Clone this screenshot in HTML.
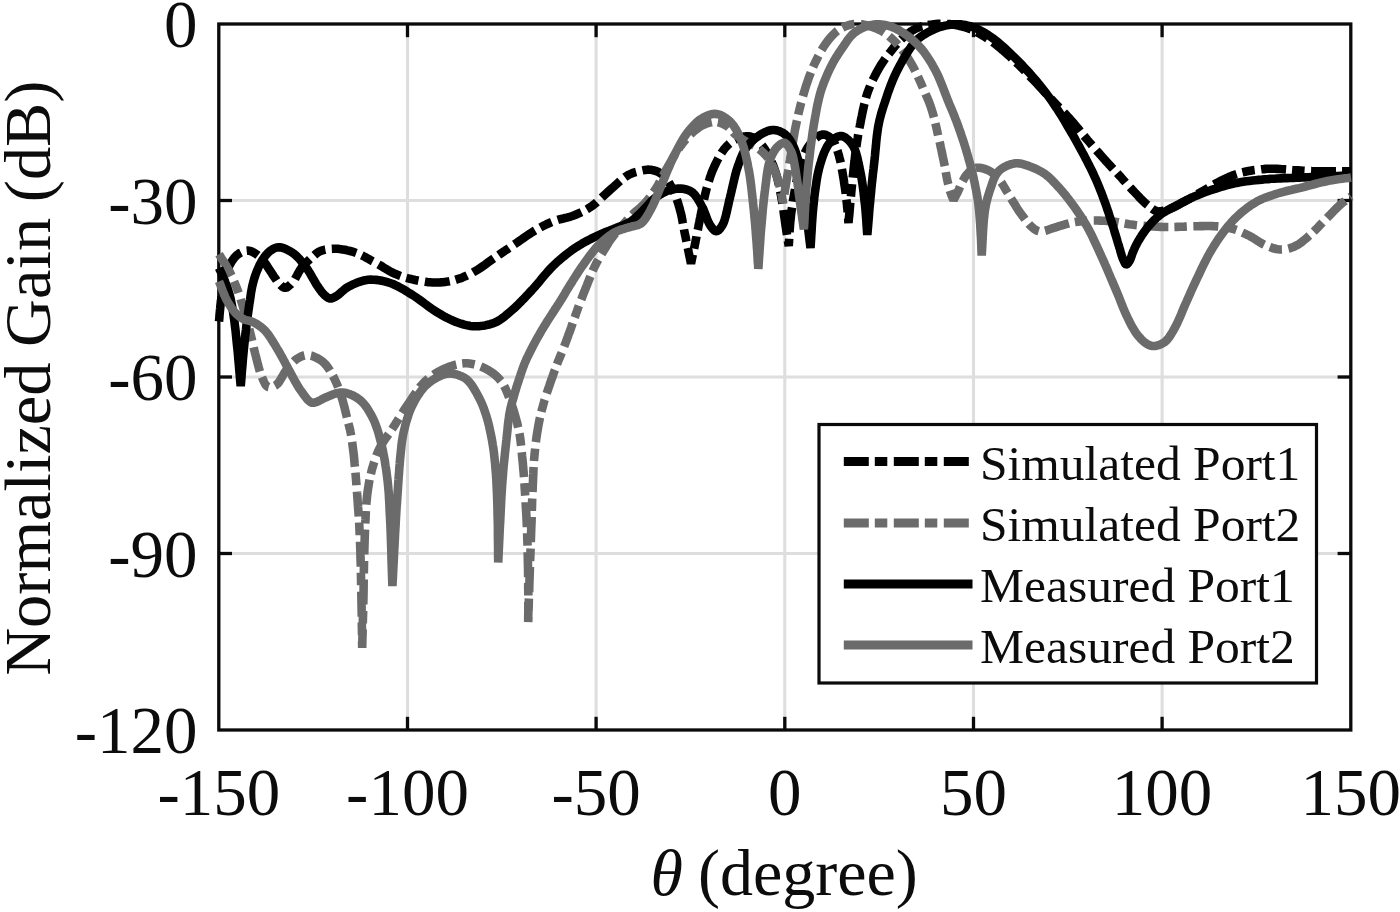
<!DOCTYPE html>
<html lang="en"><head><meta charset="utf-8"><title>Normalized Gain vs theta</title>
<style>html,body{margin:0;padding:0;background:#fff;}body{width:1400px;height:912px;overflow:hidden;}svg{display:block;}text{font-family:"Liberation Serif",serif;fill:#0c0c0c;}</style>
</head><body>
<svg width="1400" height="912" viewBox="0 0 1400 912">
<rect x="0" y="0" width="1400" height="912" fill="#ffffff"/>
<g stroke="#dedede" stroke-width="3.1" fill="none">
<line x1="407.5" y1="24.0" x2="407.5" y2="730.0"/>
<line x1="596.1" y1="24.0" x2="596.1" y2="730.0"/>
<line x1="784.8" y1="24.0" x2="784.8" y2="730.0"/>
<line x1="973.5" y1="24.0" x2="973.5" y2="730.0"/>
<line x1="1162.1" y1="24.0" x2="1162.1" y2="730.0"/>
<line x1="218.8" y1="200.5" x2="1350.8" y2="200.5"/>
<line x1="218.8" y1="377.0" x2="1350.8" y2="377.0"/>
<line x1="218.8" y1="553.5" x2="1350.8" y2="553.5"/>
</g>
<g stroke="#0a0a0a" stroke-width="3.3" fill="none">
<rect x="218.8" y="24.0" width="1132.0" height="706.0"/>
<line x1="407.5" y1="730.0" x2="407.5" y2="716.8"/>
<line x1="407.5" y1="24.0" x2="407.5" y2="37.2"/>
<line x1="596.1" y1="730.0" x2="596.1" y2="716.8"/>
<line x1="596.1" y1="24.0" x2="596.1" y2="37.2"/>
<line x1="784.8" y1="730.0" x2="784.8" y2="716.8"/>
<line x1="784.8" y1="24.0" x2="784.8" y2="37.2"/>
<line x1="973.5" y1="730.0" x2="973.5" y2="716.8"/>
<line x1="973.5" y1="24.0" x2="973.5" y2="37.2"/>
<line x1="1162.1" y1="730.0" x2="1162.1" y2="716.8"/>
<line x1="1162.1" y1="24.0" x2="1162.1" y2="37.2"/>
<line x1="218.8" y1="200.5" x2="232.0" y2="200.5"/>
<line x1="1350.8" y1="200.5" x2="1337.6" y2="200.5"/>
<line x1="218.8" y1="377.0" x2="232.0" y2="377.0"/>
<line x1="1350.8" y1="377.0" x2="1337.6" y2="377.0"/>
<line x1="218.8" y1="553.5" x2="232.0" y2="553.5"/>
<line x1="1350.8" y1="553.5" x2="1337.6" y2="553.5"/>
</g>
<g fill="none" stroke-width="8.6" stroke-linejoin="bevel" stroke-linecap="butt">
<path stroke="#000000" stroke-dasharray="25 6 12.5 6.5" d="M219.0 321.5L219.2 319.4L219.4 317.4L219.5 315.3L219.7 313.2L219.9 311.1L220.1 309.1L220.3 307.0L220.5 305.0L220.7 303.1L220.9 301.2L221.2 299.3L221.4 297.4L221.6 295.5L221.9 293.7L222.2 291.8L222.5 290.0L222.8 288.2L223.1 286.4L223.5 284.6L223.8 282.9L224.2 281.1L224.6 279.4L225.0 277.7L225.5 276.0L226.0 274.5L226.5 273.0L227.0 271.5L227.5 270.0L228.1 268.6L228.7 267.2L229.3 265.8L230.0 264.5L230.7 263.3L231.3 262.1L232.0 261.0L232.8 259.9L233.6 258.8L234.3 257.8L235.2 256.9L236.0 256.0L236.7 255.3L237.5 254.7L238.3 254.1L239.1 253.5L239.9 253.0L240.8 252.6L241.6 252.2L242.5 251.8L243.3 251.5L244.2 251.2L245.0 251.0L245.9 250.8L246.8 250.7L247.7 250.6L248.6 250.7L249.5 250.8L250.9 251.2L252.3 251.8L253.8 252.6L255.3 253.5L256.8 254.5L258.3 255.6L259.7 256.8L261.0 258.0L262.3 259.4L263.6 260.9L264.7 262.5L265.9 264.2L267.0 265.9L268.1 267.6L269.2 269.3L270.3 271.0L271.5 272.7L272.6 274.5L273.8 276.3L275.0 278.1L276.2 279.8L277.3 281.5L278.5 282.9L279.6 284.1L280.3 284.8L281.0 285.5L281.7 286.1L282.4 286.7L283.1 287.1L283.8 287.5L284.5 287.7L285.2 287.8L286.1 287.6L287.0 287.3L287.9 286.7L288.9 285.9L289.8 285.1L290.8 284.2L291.7 283.2L292.6 282.2L293.8 280.7L295.0 279.0L296.1 277.0L297.2 275.0L298.3 272.9L299.5 270.9L300.7 269.0L301.9 267.3L303.0 266.0L304.2 264.7L305.3 263.5L306.5 262.3L307.7 261.2L308.9 260.1L310.1 259.0L311.3 258.0L312.4 257.0L313.4 256.1L314.4 255.2L315.4 254.3L316.5 253.4L317.6 252.6L318.7 251.9L320.0 251.2L321.6 250.6L323.3 250.1L325.2 249.6L327.0 249.3L329.0 249.0L331.0 248.9L333.0 248.8L335.0 248.8L337.4 248.8L339.8 249.1L342.3 249.4L344.9 249.8L347.4 250.4L350.0 251.0L352.5 251.7L355.0 252.5L357.5 253.4L360.1 254.5L362.6 255.7L365.1 257.0L367.6 258.4L370.0 259.8L372.5 261.2L375.0 262.5L377.5 263.9L380.0 265.3L382.5 266.8L385.0 268.4L387.4 269.8L389.9 271.2L392.5 272.6L395.0 273.8L397.5 274.8L399.9 275.7L402.4 276.6L404.9 277.4L407.4 278.1L410.0 278.8L412.5 279.4L415.0 280.0L417.5 280.5L420.0 281.0L422.5 281.4L425.0 281.8L427.5 282.1L430.0 282.3L432.5 282.5L435.0 282.5L437.5 282.5L440.0 282.4L442.5 282.2L445.0 281.9L447.6 281.6L450.1 281.1L452.5 280.6L455.0 280.0L457.5 279.2L460.1 278.4L462.6 277.4L465.1 276.3L467.6 275.1L470.1 273.9L472.6 272.6L475.0 271.2L477.6 269.8L480.1 268.1L482.6 266.4L485.1 264.7L487.5 262.8L490.0 261.0L492.5 259.2L495.0 257.5L497.5 255.8L500.0 254.1L502.5 252.4L505.0 250.7L507.5 249.1L510.0 247.4L512.5 245.7L515.0 244.0L517.5 242.3L520.0 240.5L522.5 238.8L525.0 237.0L527.5 235.3L530.0 233.6L532.5 232.0L535.0 230.5L537.2 229.2L539.5 228.0L541.7 226.8L543.9 225.6L546.1 224.5L548.3 223.5L550.6 222.5L553.0 221.5L555.6 220.6L558.4 219.7L561.2 219.0L564.0 218.3L566.9 217.6L569.7 216.8L572.4 216.0L575.0 215.0L577.3 214.0L579.5 213.1L581.6 212.1L583.7 211.0L585.8 209.9L587.9 208.7L589.9 207.4L592.0 206.0L594.3 204.3L596.6 202.4L598.8 200.4L601.1 198.3L603.3 196.2L605.5 194.1L607.8 192.0L610.0 190.0L612.2 188.1L614.4 186.1L616.6 184.1L618.8 182.1L621.0 180.2L623.2 178.4L625.4 176.8L627.5 175.5L629.1 174.6L630.7 173.9L632.3 173.2L633.8 172.7L635.4 172.2L636.9 171.8L638.5 171.4L640.0 171.0L641.4 170.7L642.8 170.4L644.2 170.1L645.5 169.9L646.9 169.7L648.3 169.6L649.6 169.7L651.0 169.8L652.5 170.1L654.1 170.5L655.6 170.9L657.2 171.5L658.7 172.2L660.2 173.1L661.7 174.0L663.0 175.0L664.5 176.4L665.9 178.0L667.2 179.8L668.5 181.7L669.7 183.7L670.8 185.8L671.9 187.9L673.0 190.0L674.1 192.4L675.2 194.9L676.2 197.5L677.1 200.2L678.0 202.9L678.8 205.6L679.6 208.3L680.3 211.0L681.0 213.6L681.6 216.3L682.1 219.0L682.6 221.7L683.1 224.3L683.6 226.9L684.0 229.5L684.5 232.0L684.9 234.1L685.4 236.2L685.8 238.2L686.2 240.2L686.6 242.1L687.0 244.1L687.4 246.0L687.8 248.0L688.2 249.9L688.6 251.9L689.0 253.8L689.4 255.8L689.8 257.7L690.2 259.6L690.6 261.6L691.0 263.5L691.4 261.6L691.8 259.6L692.2 257.7L692.6 255.7L693.0 253.8L693.4 251.8L693.8 249.9L694.2 248.0L694.6 246.2L694.9 244.5L695.3 242.8L695.6 241.1L695.9 239.4L696.3 237.6L696.6 235.8L697.0 234.0L697.4 231.8L697.9 229.5L698.3 227.3L698.7 224.9L699.2 222.6L699.7 220.1L700.2 217.6L700.7 215.0L701.4 211.6L702.2 207.9L703.0 204.1L703.8 200.3L704.7 196.4L705.6 192.6L706.5 189.0L707.5 185.5L708.3 182.7L709.2 180.0L710.0 177.4L710.9 174.9L711.8 172.3L712.8 169.9L713.9 167.4L715.0 165.0L716.2 162.6L717.4 160.2L718.7 157.7L720.1 155.3L721.5 153.0L722.9 150.9L724.4 148.8L726.0 147.0L727.3 145.6L728.7 144.3L730.1 143.1L731.5 142.0L733.0 141.0L734.4 140.0L736.0 139.2L737.5 138.5L739.0 137.9L740.6 137.4L742.2 137.0L743.9 136.6L745.5 136.4L747.1 136.3L748.6 136.3L750.0 136.5L751.1 136.8L752.2 137.1L753.2 137.6L754.2 138.2L755.2 138.8L756.1 139.5L757.1 140.2L758.0 141.0L759.1 142.0L760.1 143.1L761.2 144.3L762.2 145.5L763.2 146.8L764.1 148.2L765.1 149.6L766.0 151.0L767.0 152.6L767.9 154.2L768.9 156.0L769.8 157.7L770.6 159.5L771.4 161.3L772.2 163.2L773.0 165.0L773.7 166.9L774.4 168.8L775.1 170.8L775.7 172.8L776.3 174.8L776.9 176.8L777.5 178.9L778.0 181.0L778.6 183.4L779.1 185.8L779.6 188.2L780.1 190.7L780.6 193.3L781.1 195.8L781.5 198.4L782.0 201.0L782.5 203.9L782.9 206.9L783.4 209.9L783.8 213.0L784.2 216.0L784.7 219.1L785.1 222.1L785.5 225.0L785.9 227.7L786.3 230.3L786.7 233.0L787.1 235.6L787.5 238.2L787.9 240.8L788.3 243.4L788.7 246.0L789.0 242.1L789.2 238.3L789.4 234.5L789.6 230.7L789.9 226.8L790.2 222.9L790.6 219.0L791.0 215.0L791.6 210.4L792.3 205.7L793.0 200.8L793.8 196.0L794.7 191.1L795.6 186.4L796.5 181.8L797.5 177.5L798.3 174.1L799.1 170.7L799.9 167.3L800.8 164.1L801.7 161.0L802.7 158.0L803.8 155.2L805.0 152.5L806.1 150.4L807.2 148.4L808.4 146.5L809.7 144.7L811.0 143.0L812.3 141.4L813.6 140.0L815.0 138.8L816.0 137.9L817.1 137.1L818.2 136.4L819.3 135.7L820.4 135.2L821.6 134.8L822.7 134.5L823.8 134.5L824.9 134.7L826.0 135.0L827.2 135.6L828.4 136.3L829.5 137.1L830.6 138.0L831.6 139.0L832.5 140.0L833.5 141.4L834.5 143.0L835.3 144.8L836.1 146.7L836.8 148.7L837.5 150.7L838.1 152.9L838.8 155.0L839.5 157.8L840.3 160.8L840.9 163.9L841.6 167.1L842.1 170.3L842.7 173.6L843.2 176.8L843.8 180.0L844.2 183.1L844.7 186.3L845.2 189.5L845.6 192.7L846.0 195.9L846.3 199.0L846.7 202.1L847.0 205.0L847.2 207.4L847.5 209.7L847.6 212.0L847.8 214.2L848.0 216.4L848.2 218.6L848.3 220.8L848.5 223.0L848.9 218.2L849.4 213.5L849.8 208.7L850.2 204.0L850.6 199.2L851.1 194.5L851.5 189.7L852.0 185.0L852.5 180.2L853.0 175.3L853.5 170.3L854.0 165.4L854.6 160.6L855.1 155.8L855.7 151.3L856.3 147.0L856.8 143.8L857.2 140.8L857.7 137.9L858.1 135.1L858.6 132.4L859.1 129.5L859.7 126.6L860.3 123.6L861.0 119.9L861.8 116.0L862.6 112.0L863.5 107.9L864.4 103.8L865.4 99.8L866.5 95.9L867.7 92.2L869.0 88.8L870.3 85.5L871.8 82.2L873.3 78.9L874.9 75.8L876.5 72.7L878.2 69.7L879.8 66.9L881.2 64.5L882.7 62.3L884.2 60.1L885.7 58.0L887.3 55.9L888.8 53.9L890.4 51.9L891.9 50.0L893.2 48.3L894.5 46.7L895.8 45.2L897.1 43.6L898.4 42.1L899.8 40.7L901.2 39.3L902.7 37.9L904.3 36.5L906.0 35.1L907.8 33.7L909.6 32.4L911.4 31.1L913.3 30.0L915.2 28.9L917.2 28.0L919.2 27.2L921.3 26.5L923.4 26.0L925.5 25.5L927.7 25.1L929.8 24.7L931.9 24.5L934.0 24.2L935.8 24.0L937.6 23.9L939.4 23.8L941.1 23.8L942.9 23.8L944.6 23.8L946.3 23.9L948.0 24.0L949.5 24.1L951.1 24.3L952.6 24.5L954.1 24.8L955.5 25.0L957.0 25.3L958.5 25.6L960.0 26.0L961.5 26.4L963.1 26.8L964.6 27.2L966.1 27.6L967.7 28.1L969.2 28.7L970.8 29.3L972.5 30.0L974.8 31.1L977.3 32.4L979.8 33.8L982.3 35.3L984.9 36.9L987.5 38.5L990.0 40.3L992.5 42.0L995.1 43.9L997.6 45.9L1000.1 48.0L1002.6 50.1L1005.1 52.3L1007.6 54.5L1010.0 56.7L1012.5 59.0L1015.0 61.4L1017.6 63.8L1020.1 66.3L1022.6 68.8L1025.1 71.3L1027.5 73.9L1030.0 76.4L1032.5 79.0L1035.0 81.6L1037.6 84.3L1040.1 87.1L1042.6 89.8L1045.1 92.5L1047.6 95.2L1050.1 97.9L1052.5 100.5L1054.7 102.9L1057.0 105.2L1059.2 107.5L1061.4 109.7L1063.5 112.0L1065.7 114.3L1067.8 116.6L1070.0 119.0L1072.2 121.5L1074.4 124.1L1076.6 126.8L1078.8 129.4L1080.9 132.1L1083.1 134.8L1085.3 137.4L1087.5 140.0L1089.7 142.5L1091.9 145.1L1094.1 147.7L1096.3 150.2L1098.5 152.7L1100.7 155.2L1102.9 157.6L1105.0 160.0L1106.9 162.1L1108.8 164.2L1110.8 166.3L1112.6 168.3L1114.5 170.3L1116.4 172.3L1118.2 174.3L1120.0 176.2L1121.6 178.0L1123.2 179.8L1124.7 181.5L1126.2 183.2L1127.8 184.9L1129.3 186.6L1130.9 188.3L1132.5 190.0L1134.3 191.9L1136.2 193.9L1138.1 195.9L1140.0 198.0L1141.9 199.9L1143.8 201.8L1145.7 203.5L1147.5 205.0L1148.8 206.0L1150.0 207.1L1151.2 208.0L1152.4 208.9L1153.6 209.7L1154.9 210.4L1156.2 210.9L1157.5 211.2L1159.0 211.4L1160.5 211.4L1162.0 211.1L1163.6 210.8L1165.2 210.4L1166.8 209.9L1168.4 209.3L1170.0 208.8L1171.8 208.1L1173.7 207.3L1175.5 206.4L1177.4 205.4L1179.3 204.4L1181.2 203.3L1183.1 202.3L1185.0 201.2L1187.1 200.1L1189.3 198.9L1191.5 197.6L1193.7 196.4L1195.9 195.1L1198.1 193.8L1200.3 192.5L1202.5 191.2L1204.7 190.0L1206.9 188.7L1209.0 187.4L1211.2 186.1L1213.4 184.8L1215.6 183.6L1217.8 182.4L1220.0 181.2L1222.2 180.2L1224.3 179.1L1226.5 178.1L1228.7 177.1L1230.9 176.2L1233.1 175.3L1235.3 174.5L1237.5 173.8L1239.7 173.1L1241.8 172.5L1244.0 172.0L1246.2 171.5L1248.4 171.1L1250.6 170.7L1252.8 170.3L1255.0 170.0L1257.2 169.7L1259.3 169.5L1261.5 169.2L1263.7 169.1L1265.8 168.9L1268.0 168.8L1270.3 168.8L1272.5 168.8L1274.9 168.8L1277.4 168.9L1279.8 169.0L1282.3 169.2L1284.9 169.4L1287.4 169.6L1289.9 169.8L1292.5 170.0L1295.2 170.2L1297.9 170.3L1300.6 170.5L1303.3 170.7L1306.1 170.9L1309.0 171.0L1311.9 171.1L1315.0 171.2L1319.1 171.3L1323.4 171.4L1327.9 171.4L1332.5 171.4L1337.1 171.3L1341.8 171.3L1346.4 171.3L1351.0 171.2"/>
<path stroke="#6b6b6b" stroke-dasharray="25 6 12.5 6.5" d="M219.0 254.2L220.3 256.3L221.6 258.4L222.9 260.5L224.3 262.6L225.6 264.7L226.8 266.8L228.0 268.9L229.2 271.0L230.3 273.1L231.3 275.2L232.3 277.2L233.2 279.3L234.1 281.5L235.0 283.6L235.9 285.7L236.7 287.8L237.5 289.9L238.2 291.9L238.9 293.9L239.6 295.9L240.3 298.0L240.9 300.1L241.6 302.3L242.3 304.6L243.2 307.6L244.1 310.7L245.1 314.0L246.0 317.3L247.0 320.6L247.9 324.0L248.8 327.4L249.7 330.7L250.5 334.0L251.3 337.3L252.1 340.6L252.9 343.9L253.7 347.2L254.4 350.5L255.2 353.7L256.0 356.8L256.7 359.5L257.4 362.3L258.1 365.0L258.8 367.7L259.5 370.3L260.3 372.8L261.1 375.2L262.0 377.3L262.7 378.8L263.3 380.3L264.0 381.8L264.7 383.2L265.4 384.5L266.2 385.6L267.1 386.4L268.0 387.0L268.9 387.2L269.9 387.3L271.0 387.2L272.1 386.9L273.3 386.5L274.4 386.0L275.5 385.4L276.5 384.7L277.8 383.5L279.0 382.0L280.2 380.2L281.3 378.2L282.5 376.2L283.6 374.2L284.8 372.2L286.0 370.5L287.2 369.0L288.4 367.4L289.6 365.9L290.8 364.5L292.0 363.1L293.3 361.8L294.6 360.6L296.0 359.5L297.3 358.6L298.6 357.8L300.0 357.1L301.4 356.4L302.8 355.9L304.2 355.4L305.6 355.1L307.0 355.0L308.4 355.0L309.8 355.3L311.2 355.6L312.7 356.1L314.1 356.7L315.4 357.3L316.7 357.9L318.0 358.6L319.1 359.2L320.2 359.9L321.2 360.6L322.2 361.3L323.2 362.1L324.1 363.0L325.1 364.0L326.0 365.0L327.2 366.5L328.4 368.2L329.6 369.9L330.7 371.8L331.9 373.8L332.9 375.9L334.0 377.9L335.0 380.0L336.1 382.3L337.1 384.7L338.1 387.2L339.1 389.8L340.0 392.3L340.9 394.9L341.7 397.5L342.5 400.0L343.2 402.5L343.9 405.1L344.6 407.7L345.2 410.3L345.8 412.9L346.4 415.3L347.0 417.7L347.5 420.0L347.9 421.6L348.3 423.1L348.7 424.5L349.1 425.9L349.4 427.3L349.8 428.8L350.2 430.3L350.5 432.0L351.0 434.5L351.4 437.1L351.8 439.8L352.2 442.7L352.6 445.6L353.0 448.7L353.4 451.8L353.8 455.0L354.2 459.2L354.6 463.7L355.1 468.4L355.5 473.2L355.9 478.0L356.3 482.9L356.6 487.7L357.0 492.5L357.4 497.2L357.7 501.9L358.0 506.6L358.4 511.2L358.7 515.9L359.0 520.6L359.3 525.3L359.5 530.0L359.7 534.7L359.9 539.3L360.1 544.0L360.3 548.7L360.4 553.3L360.5 558.0L360.7 562.7L360.8 567.5L360.9 572.5L361.0 577.5L361.1 582.6L361.2 587.7L361.3 592.8L361.4 597.9L361.5 602.9L361.6 608.0L361.7 613.0L361.8 618.0L361.8 623.0L361.9 628.0L362.0 633.0L362.1 638.0L362.1 643.0L362.2 648.0L362.3 643.1L362.4 638.3L362.6 633.6L362.7 628.8L362.8 624.0L362.9 618.9L363.1 613.6L363.2 608.0L363.4 599.3L363.6 589.7L363.7 579.4L363.9 568.8L364.1 558.3L364.4 548.1L364.7 538.6L365.0 530.0L365.2 524.6L365.5 519.5L365.7 514.6L365.9 509.9L366.2 505.4L366.6 501.0L367.0 496.7L367.5 492.5L368.0 489.1L368.5 485.8L369.0 482.6L369.6 479.5L370.3 476.4L371.0 473.4L371.7 470.4L372.5 467.5L373.3 464.9L374.1 462.3L374.9 459.7L375.8 457.2L376.7 454.8L377.7 452.3L378.8 449.9L380.0 447.5L381.3 445.1L382.8 442.7L384.3 440.3L385.9 438.0L387.5 435.7L389.2 433.4L390.9 431.0L392.5 428.5L394.3 425.7L396.1 422.8L397.9 419.9L399.8 416.9L401.7 413.9L403.6 410.9L405.5 407.9L407.5 405.0L409.6 402.0L411.6 398.9L413.7 395.7L415.8 392.6L418.0 389.6L420.2 386.7L422.6 384.0L425.0 381.5L427.3 379.4L429.7 377.5L432.1 375.7L434.6 374.0L437.1 372.5L439.7 371.0L442.3 369.7L445.0 368.5L447.6 367.4L450.4 366.4L453.1 365.5L455.9 364.7L458.7 364.1L461.5 363.6L464.3 363.3L467.0 363.3L469.6 363.5L472.2 363.9L474.8 364.5L477.4 365.3L479.9 366.2L482.4 367.2L484.8 368.3L487.0 369.5L489.0 370.6L490.9 371.8L492.8 373.1L494.6 374.5L496.3 376.0L498.0 377.6L499.5 379.2L501.0 381.0L502.4 383.0L503.7 385.1L504.9 387.4L506.0 389.8L507.0 392.2L508.0 394.7L509.0 397.3L510.0 400.0L511.2 403.4L512.5 407.0L513.7 410.7L514.8 414.5L515.9 418.4L517.0 422.3L517.9 426.2L518.8 430.0L519.5 433.7L520.1 437.4L520.6 441.2L521.0 444.9L521.4 448.6L521.8 452.4L522.1 456.2L522.5 460.0L522.9 464.0L523.2 468.0L523.6 472.0L523.9 476.0L524.2 480.1L524.5 484.2L524.7 488.3L525.0 492.5L525.3 497.1L525.6 501.7L525.8 506.4L526.1 511.1L526.4 515.8L526.6 520.6L526.8 525.3L527.0 530.0L527.2 534.7L527.3 539.4L527.5 544.2L527.6 548.9L527.7 553.6L527.8 558.3L527.9 562.9L528.0 567.5L528.1 571.7L528.1 575.9L528.2 580.1L528.2 584.3L528.2 588.4L528.3 592.4L528.3 596.3L528.3 600.0L528.3 603.0L528.3 605.8L528.3 608.6L528.3 611.3L528.3 613.9L528.2 616.6L528.2 619.3L528.2 622.0L528.4 616.8L528.5 611.6L528.7 606.4L528.8 601.2L529.0 596.0L529.2 590.8L529.3 585.4L529.5 580.0L529.7 573.9L529.9 567.6L530.1 561.3L530.4 554.8L530.6 548.4L530.8 542.1L531.0 535.9L531.2 530.0L531.4 525.1L531.6 520.2L531.7 515.5L531.8 510.9L532.0 506.3L532.1 501.7L532.3 497.1L532.5 492.5L532.7 487.8L532.9 483.0L533.1 478.2L533.3 473.5L533.5 468.7L533.8 464.1L534.1 459.5L534.5 455.0L534.9 451.1L535.3 447.2L535.7 443.3L536.2 439.5L536.7 435.8L537.3 432.1L537.9 428.5L538.5 425.0L539.1 421.9L539.7 418.9L540.4 415.9L541.1 412.9L541.8 410.0L542.6 407.2L543.3 404.6L544.0 402.0L544.5 400.1L545.1 398.4L545.6 396.8L546.1 395.2L546.6 393.6L547.2 391.9L547.8 390.2L548.4 388.4L549.3 385.9L550.2 383.2L551.1 380.4L552.2 377.5L553.2 374.6L554.2 371.7L555.3 368.9L556.3 366.1L557.3 363.5L558.3 360.9L559.4 358.3L560.4 355.8L561.5 353.2L562.5 350.7L563.6 348.1L564.6 345.4L565.7 342.5L566.8 339.5L567.9 336.5L569.0 333.4L570.1 330.4L571.2 327.4L572.2 324.5L573.2 321.7L574.0 319.4L574.8 317.2L575.6 315.0L576.3 312.8L577.1 310.7L577.8 308.6L578.6 306.4L579.4 304.3L580.2 302.2L581.0 300.1L581.8 298.1L582.6 296.0L583.4 293.9L584.3 291.8L585.1 289.7L586.0 287.5L587.0 285.0L588.0 282.3L589.1 279.6L590.2 276.9L591.3 274.2L592.4 271.6L593.5 269.0L594.7 266.5L595.8 264.3L596.9 262.2L598.1 260.1L599.2 258.1L600.4 256.1L601.6 254.1L602.8 252.2L603.9 250.3L604.9 248.7L605.9 247.1L606.8 245.5L607.8 244.0L608.7 242.4L609.7 240.9L610.7 239.5L611.8 238.0L612.9 236.6L614.0 235.2L615.1 233.8L616.2 232.4L617.4 231.1L618.6 229.7L619.8 228.4L621.0 227.0L622.3 225.5L623.6 224.0L625.0 222.5L626.3 221.0L627.7 219.5L629.1 218.0L630.5 216.5L632.0 215.0L633.6 213.5L635.2 212.0L636.9 210.5L638.6 209.1L640.3 207.6L641.9 206.1L643.5 204.6L645.0 203.0L646.4 201.5L647.7 199.9L649.0 198.4L650.2 196.8L651.4 195.2L652.6 193.5L653.8 191.8L655.0 190.0L656.4 187.7L657.8 185.4L659.1 182.9L660.5 180.4L661.8 177.8L663.2 175.2L664.6 172.6L666.0 170.0L667.6 167.2L669.2 164.3L670.9 161.4L672.5 158.5L674.2 155.6L676.0 152.8L677.7 150.1L679.5 147.5L681.1 145.4L682.6 143.3L684.2 141.3L685.8 139.4L687.5 137.5L689.1 135.7L690.8 134.1L692.5 132.5L694.0 131.2L695.5 130.0L697.1 128.8L698.6 127.7L700.2 126.7L701.8 125.7L703.4 124.9L705.0 124.2L706.4 123.6L707.9 123.2L709.3 122.7L710.8 122.4L712.2 122.1L713.7 122.0L715.1 121.9L716.5 122.0L717.9 122.2L719.4 122.6L720.8 123.0L722.2 123.6L723.6 124.2L725.0 125.0L726.3 125.7L727.5 126.5L728.6 127.3L729.6 128.3L730.6 129.3L731.6 130.4L732.5 131.4L733.4 132.5L734.4 133.5L735.5 134.5L736.7 135.5L738.0 136.4L739.3 137.3L740.6 138.2L741.9 139.0L743.3 139.9L744.6 140.7L746.0 141.5L747.4 142.3L748.7 143.0L750.1 143.7L751.5 144.4L752.9 145.0L754.3 145.8L755.7 146.6L757.0 147.5L758.5 148.6L759.9 149.7L761.4 151.0L762.8 152.2L764.2 153.6L765.5 155.0L766.8 156.5L768.0 158.0L769.2 159.8L770.4 161.6L771.4 163.6L772.4 165.6L773.4 167.7L774.3 169.8L775.2 171.9L776.0 174.0L776.8 176.2L777.5 178.5L778.2 180.8L778.9 183.2L779.5 185.5L780.0 187.8L780.5 189.9L781.0 192.0L781.3 193.5L781.6 194.9L781.9 196.3L782.1 197.7L782.3 199.0L782.5 200.3L782.8 201.6L783.0 203.0L783.2 201.4L783.5 199.9L783.7 198.4L783.9 196.8L784.2 195.3L784.4 193.6L784.7 191.9L785.0 190.0L785.5 186.9L786.1 183.4L786.7 179.8L787.3 175.9L788.0 172.0L788.7 168.0L789.3 163.9L790.0 160.0L790.7 155.7L791.4 151.4L792.1 147.0L792.8 142.6L793.6 138.1L794.3 133.7L795.1 129.3L796.0 125.0L796.9 120.8L797.8 116.7L798.7 112.6L799.7 108.5L800.7 104.4L801.8 100.4L802.9 96.4L804.0 92.5L805.1 88.9L806.2 85.3L807.4 81.8L808.6 78.3L809.9 74.9L811.2 71.6L812.6 68.2L814.0 65.0L815.4 62.0L816.9 59.0L818.4 56.0L819.9 53.1L821.5 50.2L823.1 47.5L824.8 44.9L826.5 42.5L827.9 40.6L829.3 38.8L830.8 37.1L832.3 35.5L833.8 34.0L835.3 32.5L836.9 31.2L838.5 30.0L840.0 29.0L841.6 28.1L843.2 27.3L844.8 26.6L846.4 25.9L848.0 25.4L849.5 24.9L851.0 24.5L852.1 24.3L853.1 24.1L854.1 24.0L855.1 23.9L856.0 23.9L857.0 23.9L858.0 23.9L859.0 24.0L860.0 24.1L861.1 24.2L862.1 24.3L863.1 24.5L864.2 24.7L865.2 24.9L866.3 25.2L867.5 25.5L869.2 26.0L871.0 26.5L872.9 27.2L874.8 27.9L876.8 28.6L878.7 29.5L880.6 30.4L882.5 31.5L884.6 32.9L886.7 34.4L888.7 36.0L890.8 37.8L892.8 39.6L894.8 41.5L896.7 43.5L898.5 45.5L900.3 47.6L902.1 49.8L903.7 52.0L905.4 54.3L906.9 56.6L908.5 59.0L910.0 61.5L911.5 64.0L913.1 66.8L914.6 69.7L916.1 72.8L917.6 75.8L919.0 78.9L920.4 82.0L921.7 85.0L923.0 88.0L924.2 90.7L925.3 93.2L926.4 95.8L927.5 98.3L928.6 100.9L929.6 103.5L930.6 106.2L931.5 109.0L932.5 112.3L933.5 115.7L934.4 119.2L935.2 122.7L936.1 126.3L936.9 129.9L937.7 133.5L938.5 137.0L939.3 140.4L940.1 143.9L940.8 147.4L941.6 150.9L942.3 154.3L943.0 157.7L943.7 160.9L944.3 164.0L944.8 166.3L945.2 168.6L945.6 170.8L945.9 173.0L946.3 175.0L946.7 177.1L947.1 179.1L947.5 181.0L947.9 182.6L948.2 184.1L948.6 185.6L948.9 187.1L949.3 188.5L949.7 189.9L950.1 191.2L950.5 192.5L950.9 193.5L951.2 194.5L951.6 195.4L952.0 196.4L952.4 197.3L952.7 198.2L953.1 199.1L953.5 200.0L954.0 199.1L954.5 198.1L955.0 197.2L955.5 196.3L956.0 195.4L956.5 194.4L957.0 193.5L957.5 192.5L958.0 191.4L958.5 190.3L959.0 189.2L959.5 188.0L959.9 186.9L960.4 185.7L961.0 184.6L961.5 183.5L962.1 182.4L962.6 181.3L963.2 180.2L963.8 179.1L964.4 178.0L965.0 177.0L965.7 176.0L966.5 175.0L967.4 174.0L968.3 172.9L969.3 171.8L970.4 170.8L971.4 169.9L972.6 169.1L973.8 168.5L975.0 168.0L976.4 167.7L977.9 167.7L979.5 167.8L981.2 168.0L982.8 168.4L984.5 168.9L986.0 169.4L987.5 170.0L988.9 170.6L990.2 171.4L991.5 172.2L992.7 173.1L994.0 174.1L995.2 175.2L996.3 176.3L997.5 177.5L998.8 179.0L1000.1 180.7L1001.4 182.5L1002.6 184.4L1003.8 186.4L1005.0 188.4L1006.2 190.5L1007.5 192.5L1009.0 194.9L1010.5 197.4L1012.0 199.9L1013.6 202.5L1015.2 205.1L1016.8 207.7L1018.4 210.2L1020.0 212.5L1021.5 214.6L1023.1 216.7L1024.7 218.8L1026.3 220.9L1027.9 222.8L1029.4 224.6L1031.0 226.2L1032.5 227.5L1033.4 228.3L1034.3 229.0L1035.2 229.6L1036.1 230.2L1037.0 230.6L1037.9 231.0L1038.9 231.3L1040.0 231.5L1041.6 231.5L1043.3 231.3L1045.2 230.8L1047.1 230.2L1049.0 229.5L1051.0 228.8L1053.0 228.1L1055.0 227.5L1057.1 226.9L1059.2 226.2L1061.4 225.5L1063.6 224.9L1065.8 224.2L1068.0 223.6L1070.2 223.0L1072.5 222.5L1074.9 222.1L1077.4 221.7L1079.9 221.4L1082.4 221.1L1084.9 220.9L1087.5 220.7L1090.0 220.6L1092.5 220.5L1095.0 220.5L1097.5 220.5L1100.0 220.6L1102.4 220.7L1104.9 220.8L1107.4 221.0L1109.9 221.2L1112.5 221.5L1115.2 221.8L1118.0 222.2L1120.7 222.7L1123.5 223.2L1126.3 223.7L1129.1 224.2L1132.0 224.6L1135.0 225.0L1138.5 225.4L1142.2 225.7L1145.9 226.0L1149.7 226.3L1153.6 226.5L1157.4 226.7L1161.2 226.9L1165.0 227.0L1168.8 227.0L1172.6 227.0L1176.5 226.9L1180.4 226.7L1184.2 226.6L1187.9 226.4L1191.5 226.3L1195.0 226.2L1197.7 226.2L1200.3 226.1L1202.9 226.1L1205.3 226.0L1207.8 226.0L1210.2 226.0L1212.6 226.1L1215.0 226.2L1217.3 226.4L1219.5 226.6L1221.7 226.8L1223.9 227.1L1226.0 227.4L1228.2 227.7L1230.4 228.2L1232.5 228.8L1234.7 229.4L1237.0 230.2L1239.2 231.1L1241.4 232.1L1243.6 233.1L1245.8 234.1L1247.9 235.2L1250.0 236.2L1251.9 237.3L1253.8 238.4L1255.7 239.6L1257.6 240.8L1259.4 242.0L1261.2 243.1L1263.1 244.1L1265.0 245.0L1266.8 245.8L1268.7 246.6L1270.6 247.3L1272.4 248.0L1274.3 248.5L1276.2 249.0L1278.1 249.3L1280.0 249.5L1281.9 249.5L1283.8 249.4L1285.7 249.1L1287.6 248.8L1289.5 248.3L1291.3 247.7L1293.2 247.0L1295.0 246.2L1297.0 245.2L1298.9 244.1L1300.8 242.7L1302.7 241.3L1304.5 239.8L1306.4 238.2L1308.2 236.6L1310.0 235.0L1311.9 233.3L1313.8 231.5L1315.7 229.6L1317.6 227.7L1319.4 225.8L1321.3 223.8L1323.1 221.9L1325.0 220.0L1326.9 218.1L1328.8 216.1L1330.7 214.2L1332.6 212.2L1334.5 210.3L1336.4 208.4L1338.2 206.6L1340.0 205.0L1341.4 203.8L1342.8 202.6L1344.2 201.6L1345.6 200.5L1346.9 199.5L1348.3 198.5L1349.6 197.5L1351.0 196.5"/>
<path stroke="#000000" d="M219.0 268.0L219.6 269.4L220.3 270.7L220.9 272.0L221.5 273.4L222.1 274.7L222.8 276.1L223.4 277.5L224.0 279.0L224.7 280.8L225.4 282.6L226.2 284.5L226.9 286.4L227.6 288.4L228.3 290.4L228.9 292.4L229.5 294.5L230.1 296.9L230.7 299.3L231.2 301.8L231.7 304.3L232.2 306.9L232.6 309.5L233.1 312.2L233.5 315.0L234.0 318.4L234.5 322.0L234.9 325.6L235.4 329.3L235.8 333.1L236.2 337.0L236.6 341.0L237.0 345.0L237.5 349.8L238.0 354.8L238.4 359.9L238.9 365.1L239.3 370.3L239.8 375.6L240.2 380.8L240.7 386.0L241.2 380.7L241.6 375.3L242.0 369.9L242.5 364.5L242.9 359.2L243.4 353.9L243.9 348.6L244.4 343.5L244.9 338.8L245.4 334.1L246.0 329.5L246.5 324.9L247.1 320.4L247.7 315.9L248.3 311.5L248.9 307.3L249.4 303.7L250.0 300.1L250.5 296.6L251.0 293.1L251.6 289.8L252.2 286.5L253.0 283.3L253.8 280.2L254.6 277.6L255.4 275.1L256.3 272.6L257.3 270.2L258.3 267.9L259.3 265.6L260.4 263.5L261.5 261.5L262.5 259.9L263.4 258.4L264.4 257.0L265.5 255.6L266.6 254.3L267.7 253.1L268.8 252.0L270.0 251.0L271.0 250.3L272.1 249.6L273.2 248.9L274.3 248.4L275.4 247.9L276.6 247.6L277.8 247.4L279.0 247.3L280.7 247.4L282.4 247.8L284.3 248.4L286.2 249.2L288.1 250.2L290.0 251.2L291.8 252.3L293.5 253.5L295.3 254.9L297.0 256.5L298.7 258.2L300.4 260.1L301.9 262.0L303.5 264.0L305.0 266.0L306.5 268.0L308.0 270.2L309.5 272.5L310.9 274.8L312.3 277.3L313.6 279.6L315.0 281.9L316.2 284.1L317.5 286.0L318.4 287.3L319.2 288.5L320.0 289.6L320.8 290.7L321.5 291.8L322.3 292.7L323.2 293.7L324.0 294.5L324.7 295.2L325.4 295.8L326.2 296.5L326.9 297.1L327.7 297.6L328.4 298.0L329.2 298.3L330.0 298.5L330.8 298.5L331.6 298.4L332.3 298.2L333.1 297.8L333.9 297.4L334.8 297.0L335.6 296.5L336.5 296.0L337.8 295.2L339.1 294.1L340.4 293.0L341.8 291.7L343.2 290.5L344.7 289.2L346.3 288.0L348.0 287.0L350.2 285.8L352.5 284.7L354.9 283.6L357.5 282.5L360.1 281.6L362.7 280.8L365.4 280.2L368.0 279.8L370.7 279.6L373.4 279.7L376.2 279.9L379.0 280.2L381.8 280.8L384.5 281.4L387.3 282.2L390.0 283.0L392.9 284.0L395.7 285.3L398.5 286.7L401.3 288.2L404.1 289.8L406.9 291.5L409.7 293.3L412.5 295.0L415.6 297.0L418.8 299.2L421.9 301.5L425.1 303.9L428.2 306.2L431.4 308.5L434.5 310.6L437.5 312.5L440.1 314.0L442.6 315.5L445.1 316.9L447.6 318.2L450.1 319.4L452.6 320.5L455.0 321.6L457.5 322.5L459.7 323.3L461.9 323.9L464.0 324.6L466.2 325.1L468.4 325.6L470.5 325.9L472.8 326.2L475.0 326.2L477.5 326.2L480.0 326.1L482.6 325.8L485.1 325.4L487.7 324.8L490.2 324.2L492.7 323.4L495.0 322.5L497.2 321.5L499.2 320.3L501.2 319.0L503.2 317.5L505.1 316.0L507.0 314.4L509.0 312.7L511.0 311.0L513.6 308.8L516.2 306.3L518.8 303.8L521.5 301.1L524.1 298.4L526.8 295.6L529.4 292.8L532.0 290.0L534.6 287.1L537.3 284.0L539.9 280.9L542.4 277.8L545.0 274.7L547.6 271.7L550.3 268.8L553.0 266.0L555.5 263.6L558.1 261.2L560.7 259.0L563.3 256.8L566.0 254.6L568.6 252.6L571.3 250.6L574.0 248.7L576.6 247.0L579.2 245.4L581.8 243.8L584.4 242.3L587.0 240.9L589.7 239.5L592.3 238.1L595.0 236.8L597.6 235.6L600.3 234.4L603.0 233.2L605.7 232.1L608.4 231.1L611.0 230.0L613.6 229.0L616.0 228.0L617.9 227.2L619.7 226.5L621.5 225.9L623.3 225.2L625.0 224.5L626.7 223.8L628.4 223.0L630.0 222.0L631.7 220.9L633.3 219.6L634.9 218.3L636.4 216.9L637.9 215.4L639.5 214.0L641.0 212.5L642.5 211.0L644.1 209.4L645.6 207.7L647.1 206.0L648.6 204.3L650.1 202.6L651.7 200.9L653.3 199.4L655.0 198.0L656.7 196.7L658.6 195.5L660.4 194.4L662.4 193.3L664.3 192.3L666.2 191.4L668.1 190.6L670.0 190.0L671.6 189.6L673.2 189.2L674.8 188.9L676.4 188.7L678.0 188.6L679.5 188.6L681.0 188.6L682.5 188.8L683.8 188.9L685.1 189.2L686.4 189.5L687.7 189.9L689.0 190.4L690.2 191.0L691.4 191.7L692.5 192.5L693.9 193.8L695.3 195.4L696.6 197.2L697.9 199.2L699.1 201.2L700.3 203.3L701.4 205.5L702.5 207.5L703.6 209.7L704.5 212.0L705.4 214.3L706.3 216.7L707.2 219.1L708.1 221.3L709.0 223.3L710.0 225.0L710.7 226.1L711.5 227.2L712.3 228.2L713.1 229.2L713.9 230.0L714.7 230.7L715.5 231.1L716.2 231.2L717.0 231.1L717.8 230.7L718.7 230.1L719.5 229.3L720.3 228.4L721.0 227.3L721.8 226.2L722.5 225.0L723.7 222.6L724.7 219.6L725.7 216.3L726.6 212.6L727.4 208.8L728.3 205.0L729.1 201.1L730.0 197.5L730.9 193.8L731.8 189.9L732.7 186.0L733.6 182.1L734.5 178.2L735.4 174.5L736.4 170.9L737.5 167.5L738.4 164.9L739.3 162.4L740.2 159.9L741.1 157.6L742.1 155.3L743.1 153.1L744.3 151.0L745.5 149.0L746.7 147.3L747.9 145.6L749.2 144.1L750.5 142.6L751.9 141.1L753.4 139.8L754.9 138.5L756.5 137.3L758.3 136.1L760.2 134.8L762.3 133.6L764.3 132.5L766.4 131.6L768.5 130.8L770.6 130.3L772.5 130.0L774.1 130.0L775.7 130.2L777.3 130.5L778.8 131.0L780.3 131.6L781.8 132.3L783.2 133.1L784.5 134.0L785.9 135.1L787.1 136.4L788.3 137.8L789.5 139.4L790.6 141.0L791.6 142.8L792.6 144.6L793.5 146.5L794.6 149.0L795.6 151.7L796.5 154.5L797.4 157.4L798.2 160.5L798.9 163.6L799.6 166.8L800.3 170.0L801.1 173.8L801.7 177.6L802.3 181.5L802.9 185.6L803.4 189.7L803.9 193.9L804.4 198.1L805.0 202.5L805.7 207.8L806.4 213.3L807.1 219.0L807.8 224.8L808.4 230.6L809.1 236.4L809.8 242.3L810.5 248.0L810.9 242.3L811.2 236.5L811.6 230.7L811.9 225.0L812.3 219.2L812.7 213.5L813.2 208.0L813.8 202.5L814.3 197.6L814.9 192.6L815.6 187.7L816.3 182.8L817.0 178.1L817.9 173.5L818.9 169.2L820.0 165.0L821.0 161.8L822.0 158.5L823.1 155.4L824.3 152.3L825.6 149.5L826.9 146.9L828.4 144.5L830.0 142.5L831.2 141.2L832.6 139.9L834.0 138.8L835.4 137.8L836.9 137.0L838.4 136.4L839.8 136.1L841.2 136.0L842.7 136.3L844.2 136.9L845.7 137.8L847.2 139.0L848.7 140.3L850.0 141.8L851.3 143.4L852.5 145.0L853.9 147.4L855.1 150.1L856.1 153.1L857.0 156.3L857.8 159.6L858.5 163.1L859.3 166.5L860.0 170.0L860.8 174.1L861.6 178.4L862.3 182.8L862.9 187.3L863.5 191.8L864.0 196.3L864.5 200.7L865.0 205.0L865.4 208.9L865.7 212.7L866.0 216.4L866.3 220.1L866.5 223.8L866.8 227.6L867.0 231.3L867.3 235.0L867.7 230.3L868.1 225.6L868.5 220.9L868.9 216.2L869.2 211.6L869.6 206.9L870.1 202.2L870.5 197.5L871.0 192.8L871.4 188.1L871.9 183.4L872.4 178.7L872.9 174.0L873.5 169.3L874.0 164.7L874.5 160.0L875.0 155.4L875.4 150.7L875.9 146.0L876.3 141.3L876.8 136.6L877.4 132.1L878.0 127.8L878.8 123.6L879.5 120.3L880.3 117.2L881.1 114.1L882.0 111.1L882.9 108.2L883.8 105.3L884.8 102.4L885.8 99.4L886.8 96.4L887.8 93.3L888.9 90.3L890.0 87.3L891.1 84.3L892.3 81.3L893.6 78.3L894.9 75.3L896.4 72.2L898.0 69.0L899.6 65.8L901.4 62.6L903.1 59.5L904.9 56.5L906.6 53.8L908.2 51.2L909.3 49.5L910.4 47.9L911.4 46.3L912.4 44.9L913.4 43.5L914.5 42.1L915.8 40.8L917.2 39.5L919.2 37.9L921.4 36.3L923.8 34.7L926.3 33.2L928.9 31.8L931.5 30.5L934.1 29.3L936.5 28.3L938.5 27.5L940.5 26.9L942.5 26.3L944.5 25.8L946.5 25.4L948.4 25.0L950.2 24.7L952.0 24.5L953.3 24.4L954.6 24.2L955.8 24.2L957.1 24.2L958.3 24.2L959.5 24.2L960.7 24.3L962.0 24.5L963.5 24.7L965.1 25.0L966.7 25.4L968.3 25.8L970.0 26.2L971.6 26.7L973.3 27.3L975.0 28.0L977.1 28.9L979.3 29.9L981.4 31.1L983.6 32.3L985.9 33.6L988.1 35.0L990.3 36.5L992.5 38.0L995.0 39.9L997.5 41.9L1000.0 44.0L1002.6 46.2L1005.1 48.5L1007.6 50.8L1010.0 53.1L1012.5 55.5L1015.1 58.0L1017.6 60.5L1020.1 63.0L1022.6 65.6L1025.1 68.3L1027.6 71.0L1030.1 73.7L1032.5 76.5L1035.1 79.5L1037.7 82.6L1040.3 85.8L1042.8 89.0L1045.4 92.3L1047.8 95.5L1050.2 98.8L1052.5 102.0L1054.5 105.0L1056.5 108.0L1058.4 110.9L1060.3 113.9L1062.1 116.9L1063.9 119.9L1065.7 122.9L1067.5 126.0L1069.4 129.2L1071.3 132.5L1073.3 135.8L1075.2 139.2L1077.0 142.5L1078.9 145.9L1080.7 149.2L1082.5 152.5L1084.2 155.6L1085.8 158.8L1087.4 161.9L1089.0 165.0L1090.6 168.1L1092.1 171.2L1093.6 174.4L1095.0 177.5L1096.4 180.6L1097.7 183.7L1099.0 186.8L1100.2 189.9L1101.5 193.0L1102.7 196.2L1103.8 199.3L1105.0 202.5L1106.2 205.8L1107.3 209.2L1108.5 212.5L1109.6 216.0L1110.7 219.3L1111.7 222.7L1112.8 225.9L1113.8 229.0L1114.5 231.6L1115.3 234.1L1116.1 236.6L1116.8 239.0L1117.5 241.4L1118.2 243.7L1118.9 245.9L1119.5 248.0L1120.0 249.5L1120.4 251.1L1120.8 252.5L1121.2 253.9L1121.6 255.3L1122.1 256.6L1122.5 257.8L1123.0 259.0L1123.4 259.9L1123.8 260.8L1124.2 261.7L1124.6 262.5L1125.0 263.3L1125.4 263.9L1125.8 264.3L1126.2 264.5L1126.6 264.4L1127.0 264.2L1127.5 263.9L1127.9 263.4L1128.3 262.8L1128.7 262.2L1129.1 261.6L1129.5 261.0L1130.0 260.1L1130.4 259.1L1130.9 258.0L1131.3 256.8L1131.7 255.6L1132.1 254.4L1132.5 253.2L1133.0 252.0L1133.5 250.8L1134.0 249.7L1134.5 248.5L1135.0 247.4L1135.6 246.2L1136.2 245.0L1136.8 243.8L1137.5 242.5L1138.5 240.7L1139.6 238.9L1140.8 237.0L1142.0 235.0L1143.4 233.1L1144.7 231.2L1146.1 229.3L1147.5 227.5L1148.9 225.8L1150.4 224.1L1151.9 222.5L1153.4 220.9L1155.0 219.3L1156.6 217.8L1158.3 216.4L1160.0 215.0L1161.7 213.7L1163.5 212.6L1165.3 211.5L1167.2 210.4L1169.1 209.4L1171.0 208.4L1173.0 207.3L1175.0 206.2L1177.3 205.0L1179.8 203.7L1182.2 202.4L1184.8 201.1L1187.3 199.8L1189.9 198.6L1192.5 197.4L1195.0 196.2L1197.5 195.2L1199.9 194.2L1202.4 193.2L1204.8 192.3L1207.3 191.3L1209.8 190.5L1212.4 189.6L1215.0 188.8L1218.0 187.8L1221.0 186.9L1224.1 186.0L1227.3 185.2L1230.5 184.4L1233.7 183.6L1236.8 182.9L1240.0 182.3L1243.1 181.8L1246.2 181.3L1249.3 180.9L1252.5 180.5L1255.6 180.2L1258.7 179.9L1261.9 179.6L1265.0 179.3L1268.1 179.1L1271.2 178.8L1274.4 178.7L1277.5 178.5L1280.6 178.4L1283.7 178.3L1286.9 178.1L1290.0 178.0L1293.1 177.9L1296.1 177.7L1299.2 177.6L1302.2 177.5L1305.3 177.4L1308.4 177.3L1311.7 177.1L1315.0 177.0L1319.2 176.8L1323.5 176.6L1328.0 176.5L1332.6 176.3L1337.2 176.1L1341.8 175.9L1346.5 175.7L1351.0 175.5"/>
<path stroke="#6b6b6b" d="M219.0 281.3L220.0 283.8L221.0 286.4L222.0 289.0L223.0 291.6L224.1 294.2L225.1 296.7L226.2 299.1L227.4 301.3L228.5 303.2L229.6 305.0L230.7 306.8L231.9 308.5L233.1 310.1L234.3 311.6L235.5 313.0L236.7 314.3L237.6 315.1L238.5 315.9L239.4 316.6L240.3 317.2L241.2 317.8L242.1 318.3L243.1 318.8L244.1 319.3L245.2 319.8L246.3 320.1L247.5 320.4L248.7 320.7L249.9 321.0L251.1 321.4L252.3 321.8L253.5 322.3L254.9 323.0L256.3 323.8L257.8 324.7L259.2 325.7L260.6 326.7L262.0 327.8L263.4 329.0L264.7 330.3L266.2 331.9L267.7 333.7L269.1 335.7L270.4 337.7L271.8 339.8L273.1 342.0L274.5 344.1L275.8 346.3L277.2 348.7L278.7 351.1L280.1 353.6L281.5 356.2L282.9 358.7L284.3 361.3L285.6 363.8L287.0 366.3L288.3 368.8L289.7 371.3L291.0 373.8L292.4 376.4L293.7 378.8L295.0 381.2L296.3 383.4L297.5 385.5L298.4 386.9L299.2 388.2L300.0 389.5L300.9 390.7L301.7 391.8L302.5 392.9L303.2 394.0L304.0 395.0L304.6 395.8L305.2 396.6L305.7 397.3L306.3 398.0L306.8 398.7L307.4 399.4L307.9 400.0L308.5 400.5L309.0 400.9L309.5 401.3L310.0 401.6L310.4 402.0L310.9 402.3L311.5 402.5L312.0 402.7L312.5 402.8L313.0 402.8L313.6 402.8L314.1 402.7L314.7 402.6L315.2 402.4L315.8 402.2L316.4 402.0L317.0 401.8L317.9 401.4L318.8 401.0L319.7 400.5L320.7 400.0L321.7 399.4L322.7 398.9L323.8 398.3L325.0 397.8L326.8 397.0L328.9 396.1L331.1 395.2L333.3 394.3L335.6 393.5L338.0 392.9L340.3 392.6L342.5 392.5L344.7 392.8L347.0 393.3L349.3 394.0L351.6 394.9L353.9 396.0L356.0 397.2L358.1 398.6L360.0 400.0L361.9 401.7L363.7 403.6L365.3 405.6L366.9 407.8L368.4 410.2L369.8 412.6L371.2 415.0L372.5 417.5L373.9 420.3L375.1 423.2L376.2 426.2L377.3 429.3L378.3 432.5L379.2 435.7L380.1 439.1L381.0 442.5L382.0 446.8L383.0 451.3L383.9 456.0L384.8 460.7L385.5 465.6L386.3 470.4L386.9 475.2L387.5 480.0L388.0 484.6L388.4 489.1L388.8 493.6L389.0 498.0L389.3 502.6L389.5 507.3L389.7 512.3L390.0 517.5L390.4 525.1L390.7 533.2L391.0 541.7L391.3 550.5L391.5 559.4L391.8 568.4L392.1 577.3L392.4 586.0L392.9 577.3L393.3 568.4L393.8 559.4L394.2 550.5L394.7 541.7L395.1 533.2L395.6 525.1L396.0 517.5L396.3 512.2L396.6 507.2L397.0 502.3L397.3 497.6L397.6 493.0L397.9 488.6L398.2 484.2L398.5 480.0L398.7 476.6L399.0 473.4L399.2 470.2L399.4 467.1L399.7 464.1L399.9 461.1L400.2 458.0L400.5 455.0L400.8 452.1L401.1 449.2L401.4 446.3L401.7 443.5L402.1 440.7L402.6 437.8L403.1 434.9L403.7 432.0L404.5 428.7L405.3 425.4L406.2 422.0L407.3 418.6L408.3 415.2L409.5 411.9L410.8 408.7L412.2 405.7L413.6 403.0L415.0 400.2L416.6 397.6L418.2 395.0L419.9 392.5L421.6 390.2L423.5 387.9L425.4 385.9L427.3 384.2L429.3 382.5L431.4 380.9L433.5 379.5L435.7 378.2L437.8 377.0L439.9 376.0L441.8 375.2L443.1 374.7L444.3 374.3L445.6 374.0L446.7 373.7L447.9 373.6L449.1 373.5L450.4 373.5L451.7 373.6L453.5 373.8L455.3 374.2L457.2 374.7L459.2 375.4L461.2 376.2L463.0 377.1L464.8 378.1L466.5 379.3L468.2 380.8L469.8 382.6L471.4 384.6L472.8 386.7L474.2 389.0L475.5 391.2L476.8 393.5L478.0 395.8L479.2 398.1L480.4 400.4L481.5 402.8L482.5 405.2L483.5 407.6L484.4 410.2L485.3 412.8L486.2 415.5L487.2 418.9L488.2 422.4L489.1 426.1L489.9 429.9L490.7 433.7L491.5 437.5L492.2 441.3L492.8 445.1L493.4 448.8L493.9 452.5L494.3 456.2L494.7 459.9L495.1 463.6L495.4 467.3L495.7 471.1L496.0 475.0L496.3 479.2L496.5 483.4L496.7 487.6L496.9 491.9L497.1 496.2L497.2 500.7L497.4 505.3L497.5 510.0L497.6 516.1L497.8 522.4L497.9 528.9L497.9 535.6L498.0 542.3L498.1 549.1L498.1 555.9L498.2 562.5L498.7 552.0L499.2 541.2L499.7 530.3L500.3 519.4L500.8 508.8L501.3 498.5L501.9 488.9L502.5 480.0L503.0 474.3L503.4 468.8L503.9 463.6L504.4 458.7L504.9 453.8L505.4 449.2L505.9 444.6L506.4 440.0L506.8 436.2L507.2 432.5L507.6 428.8L507.9 425.3L508.3 421.8L508.8 418.4L509.2 415.2L509.8 412.0L510.3 409.5L510.8 407.2L511.4 404.8L512.0 402.6L512.6 400.4L513.3 398.3L513.9 396.1L514.5 394.0L515.0 392.1L515.6 390.3L516.1 388.5L516.7 386.7L517.2 384.9L517.8 383.2L518.4 381.4L519.0 379.5L519.7 377.4L520.4 375.3L521.1 373.1L521.9 370.9L522.6 368.8L523.4 366.6L524.2 364.5L525.0 362.5L525.8 360.7L526.5 359.0L527.3 357.4L528.1 355.8L528.9 354.1L529.7 352.5L530.6 350.8L531.5 349.0L532.6 346.8L533.8 344.5L535.1 342.2L536.3 339.8L537.6 337.5L539.0 335.1L540.3 332.8L541.6 330.5L542.9 328.4L544.2 326.3L545.5 324.2L546.8 322.1L548.1 320.0L549.4 318.0L550.7 316.0L552.0 314.0L553.2 312.2L554.3 310.4L555.4 308.7L556.6 306.9L557.7 305.2L558.8 303.5L559.9 301.7L561.0 300.0L562.0 298.4L563.0 296.7L563.9 295.2L564.9 293.6L565.8 291.9L566.8 290.3L567.9 288.5L569.0 286.7L570.6 284.1L572.4 281.3L574.3 278.3L576.2 275.3L578.2 272.2L580.2 269.2L582.2 266.2L584.2 263.4L586.1 260.8L588.0 258.1L589.9 255.5L591.9 253.0L593.9 250.5L595.9 248.1L597.9 245.8L600.0 243.7L601.9 241.9L603.8 240.2L605.7 238.6L607.7 237.0L609.7 235.6L611.7 234.2L613.7 232.9L615.8 231.8L617.7 230.9L619.8 230.1L621.8 229.4L623.9 228.8L625.9 228.2L627.9 227.7L629.8 227.1L631.6 226.6L632.9 226.2L634.2 225.9L635.4 225.7L636.6 225.4L637.7 225.1L638.8 224.7L639.9 224.2L641.0 223.5L642.3 222.4L643.6 221.0L644.8 219.4L646.0 217.7L647.1 215.9L648.3 214.0L649.4 212.0L650.5 210.0L651.9 207.3L653.3 204.4L654.7 201.4L656.0 198.2L657.4 194.9L658.7 191.6L660.1 188.3L661.5 185.0L663.1 181.3L664.6 177.6L666.2 173.7L667.8 169.9L669.5 166.0L671.1 162.2L672.8 158.5L674.5 155.0L676.0 152.0L677.6 148.9L679.1 146.0L680.7 143.1L682.3 140.3L683.9 137.6L685.7 135.0L687.5 132.5L689.2 130.4L691.0 128.3L692.8 126.2L694.7 124.3L696.6 122.4L698.5 120.8L700.5 119.3L702.5 118.0L704.2 117.1L705.9 116.2L707.7 115.5L709.5 114.8L711.2 114.3L713.0 114.0L714.8 113.9L716.5 114.0L718.3 114.4L720.2 114.9L722.0 115.8L723.8 116.8L725.6 117.9L727.3 119.2L729.0 120.6L730.5 122.0L732.1 123.8L733.6 125.7L735.0 127.8L736.4 130.1L737.6 132.5L738.8 134.9L739.9 137.4L741.0 140.0L742.2 143.1L743.3 146.3L744.3 149.6L745.2 153.1L746.0 156.6L746.8 160.2L747.6 163.8L748.3 167.5L749.1 171.6L749.8 175.9L750.4 180.2L751.0 184.6L751.5 189.1L752.0 193.6L752.5 198.0L753.0 202.5L753.5 207.2L754.0 211.9L754.4 216.7L754.9 221.5L755.3 226.2L755.7 230.9L756.0 235.5L756.4 240.0L756.7 243.8L756.9 247.5L757.2 251.1L757.4 254.6L757.6 258.2L757.8 261.7L758.1 265.2L758.3 268.8L758.7 263.6L759.0 258.4L759.4 253.2L759.7 248.0L760.1 242.8L760.4 237.7L760.8 232.6L761.2 227.5L761.7 222.7L762.1 217.9L762.5 213.1L762.9 208.4L763.4 203.7L763.9 199.0L764.4 194.5L765.0 190.0L765.5 186.0L766.0 181.9L766.5 177.9L767.0 173.9L767.6 170.1L768.3 166.5L769.1 163.1L770.0 160.0L770.7 158.0L771.5 156.1L772.4 154.3L773.3 152.6L774.2 151.0L775.2 149.5L776.2 148.2L777.3 147.0L778.1 146.2L779.0 145.4L779.9 144.6L780.9 143.9L781.8 143.4L782.8 143.0L783.7 142.8L784.5 142.8L785.4 143.1L786.3 143.8L787.2 144.7L788.0 145.7L788.8 147.0L789.6 148.3L790.3 149.7L791.0 151.0L791.8 152.9L792.5 155.0L793.1 157.2L793.6 159.6L794.1 162.1L794.6 164.7L795.0 167.3L795.5 170.0L796.1 173.7L796.7 177.6L797.3 181.7L797.9 185.9L798.4 190.2L798.9 194.4L799.5 198.5L800.0 202.5L800.5 206.0L801.0 209.4L801.5 212.7L802.0 216.1L802.4 219.4L802.9 222.7L803.4 226.0L803.9 229.3L804.2 224.4L804.5 219.5L804.7 214.5L805.0 209.6L805.3 204.7L805.6 199.8L805.9 194.9L806.2 190.0L806.6 185.3L807.1 180.5L807.5 175.8L807.9 171.1L808.4 166.4L808.9 161.7L809.5 157.1L810.0 152.5L810.5 148.1L811.1 143.7L811.7 139.3L812.3 134.9L812.9 130.6L813.6 126.3L814.3 122.1L815.0 118.0L815.7 114.3L816.3 110.7L817.0 107.2L817.7 103.7L818.5 100.2L819.3 96.8L820.2 93.4L821.2 90.0L822.4 86.6L823.6 83.2L825.0 79.8L826.4 76.4L827.8 73.2L829.3 70.0L830.8 66.9L832.3 64.0L833.5 61.8L834.7 59.6L835.9 57.6L837.2 55.6L838.4 53.7L839.7 51.8L841.0 49.9L842.3 48.0L843.6 46.1L844.9 44.1L846.3 42.2L847.6 40.2L849.0 38.4L850.4 36.6L851.9 35.0L853.5 33.5L854.9 32.3L856.4 31.3L858.0 30.3L859.6 29.4L861.2 28.5L862.8 27.8L864.4 27.1L866.0 26.5L867.5 26.0L868.9 25.6L870.4 25.2L871.9 24.9L873.4 24.6L874.9 24.4L876.5 24.3L878.0 24.3L879.7 24.4L881.4 24.5L883.2 24.7L885.0 25.0L886.7 25.4L888.5 25.9L890.3 26.4L892.0 27.0L893.9 27.8L895.8 28.6L897.7 29.6L899.6 30.6L901.5 31.8L903.3 32.9L905.2 34.2L907.0 35.5L909.0 37.0L910.9 38.5L912.8 40.1L914.7 41.8L916.6 43.6L918.4 45.5L920.2 47.5L922.0 49.5L924.0 52.0L925.9 54.7L927.8 57.5L929.7 60.4L931.5 63.3L933.2 66.4L934.9 69.4L936.5 72.5L938.1 75.7L939.5 79.0L940.9 82.4L942.3 85.8L943.6 89.2L944.9 92.6L946.2 96.0L947.5 99.4L948.8 102.6L950.1 105.8L951.5 109.0L952.8 112.1L954.1 115.3L955.3 118.5L956.6 121.7L957.8 125.0L959.0 128.4L960.3 131.9L961.4 135.4L962.6 138.9L963.8 142.4L964.9 146.0L966.0 149.5L967.0 153.0L968.0 156.4L968.9 159.8L969.9 163.2L970.8 166.6L971.6 169.9L972.5 173.3L973.3 176.7L974.0 180.0L974.7 183.1L975.3 186.2L975.9 189.3L976.5 192.4L977.1 195.5L977.6 198.6L978.1 201.8L978.5 205.0L978.9 208.6L979.3 212.4L979.6 216.3L979.9 220.2L980.2 224.0L980.4 227.8L980.6 231.5L980.8 235.0L981.0 237.7L981.1 240.4L981.2 243.0L981.3 245.5L981.4 248.0L981.5 250.5L981.6 253.0L981.7 255.5L982.1 249.2L982.4 243.3L982.7 237.3L983.0 231.4L983.4 225.5L983.8 220.0L984.4 214.7L985.0 210.0L985.5 207.1L986.0 204.4L986.6 201.8L987.2 199.4L987.8 197.0L988.5 194.7L989.2 192.4L990.0 190.0L990.8 187.7L991.6 185.3L992.4 182.9L993.2 180.5L994.2 178.3L995.2 176.2L996.3 174.2L997.5 172.5L998.6 171.3L999.7 170.2L1000.9 169.2L1002.2 168.3L1003.5 167.5L1004.8 166.8L1006.2 166.1L1007.5 165.5L1008.7 165.0L1009.9 164.6L1011.1 164.2L1012.4 163.9L1013.6 163.6L1014.9 163.4L1016.2 163.3L1017.5 163.3L1019.0 163.4L1020.5 163.6L1022.1 163.9L1023.6 164.3L1025.2 164.8L1026.8 165.3L1028.4 165.9L1030.0 166.5L1031.9 167.2L1033.8 168.0L1035.7 168.8L1037.6 169.7L1039.5 170.7L1041.4 171.7L1043.2 172.8L1045.0 174.0L1046.7 175.3L1048.3 176.6L1049.9 178.1L1051.5 179.6L1053.0 181.2L1054.5 182.8L1056.0 184.4L1057.5 186.0L1059.1 187.7L1060.7 189.5L1062.2 191.3L1063.7 193.1L1065.3 194.9L1066.8 196.9L1068.4 198.9L1070.0 201.0L1072.0 203.7L1074.1 206.6L1076.2 209.5L1078.3 212.6L1080.4 215.7L1082.5 218.9L1084.5 222.2L1086.5 225.5L1088.5 229.1L1090.5 232.9L1092.4 236.7L1094.2 240.6L1096.1 244.6L1097.9 248.5L1099.7 252.5L1101.5 256.5L1103.4 260.6L1105.2 264.8L1107.1 269.1L1108.9 273.4L1110.7 277.6L1112.5 281.8L1114.3 286.0L1116.0 290.0L1117.5 293.6L1119.0 297.2L1120.4 300.8L1121.8 304.3L1123.2 307.8L1124.6 311.2L1126.0 314.4L1127.5 317.5L1128.7 320.0L1129.9 322.4L1131.1 324.7L1132.3 327.0L1133.6 329.1L1134.8 331.2L1136.1 333.2L1137.5 335.0L1138.7 336.4L1139.9 337.8L1141.2 339.2L1142.4 340.4L1143.7 341.6L1145.0 342.6L1146.3 343.5L1147.5 344.2L1148.4 344.7L1149.2 345.1L1150.1 345.4L1150.9 345.7L1151.8 345.9L1152.7 346.0L1153.6 346.0L1154.5 346.0L1155.7 345.9L1157.0 345.6L1158.4 345.2L1159.8 344.7L1161.1 344.1L1162.5 343.4L1163.8 342.6L1165.0 341.8L1166.4 340.5L1167.8 339.0L1169.1 337.3L1170.3 335.5L1171.5 333.6L1172.7 331.6L1173.8 329.6L1175.0 327.5L1176.3 325.0L1177.6 322.4L1178.8 319.6L1180.1 316.8L1181.3 313.9L1182.5 310.9L1183.7 308.0L1185.0 305.0L1186.5 301.7L1188.0 298.3L1189.6 294.8L1191.1 291.3L1192.7 287.8L1194.3 284.3L1195.9 280.9L1197.5 277.5L1199.0 274.3L1200.5 271.1L1202.0 267.9L1203.5 264.8L1205.1 261.7L1206.7 258.6L1208.3 255.5L1210.0 252.5L1211.7 249.6L1213.5 246.6L1215.4 243.7L1217.2 240.8L1219.1 238.0L1221.1 235.2L1223.0 232.6L1225.0 230.0L1226.8 227.8L1228.6 225.6L1230.4 223.5L1232.2 221.4L1234.1 219.4L1236.0 217.5L1238.0 215.6L1240.0 213.8L1242.0 212.0L1244.1 210.3L1246.3 208.6L1248.4 207.0L1250.6 205.4L1252.9 204.0L1255.2 202.6L1257.5 201.2L1259.9 200.0L1262.3 198.9L1264.7 197.9L1267.2 197.0L1269.7 196.1L1272.3 195.2L1274.9 194.3L1277.5 193.5L1280.5 192.6L1283.5 191.8L1286.6 191.0L1289.8 190.3L1293.0 189.5L1296.2 188.8L1299.4 188.1L1302.5 187.3L1305.6 186.5L1308.8 185.7L1311.9 184.8L1315.0 184.0L1318.2 183.2L1321.3 182.4L1324.4 181.7L1327.5 181.0L1330.5 180.4L1333.4 179.9L1336.3 179.5L1339.3 179.1L1342.2 178.7L1345.1 178.3L1348.1 177.9L1351.0 177.5"/>
</g>
<g font-size="67.0">
<text x="218.8" y="814.5" text-anchor="middle">-150</text>
<text x="407.5" y="814.5" text-anchor="middle">-100</text>
<text x="596.1" y="814.5" text-anchor="middle">-50</text>
<text x="784.8" y="814.5" text-anchor="middle">0</text>
<text x="973.5" y="814.5" text-anchor="middle">50</text>
<text x="1162.1" y="814.5" text-anchor="middle">100</text>
<text x="1350.8" y="814.5" text-anchor="middle">150</text>
<text x="197.6" y="47.3" text-anchor="end">0</text>
<text x="197.6" y="223.8" text-anchor="end">-30</text>
<text x="197.6" y="400.3" text-anchor="end">-60</text>
<text x="197.6" y="576.8" text-anchor="end">-90</text>
<text x="197.6" y="753.3" text-anchor="end">-120</text>
<text x="650.5" y="894.5" font-size="66" font-style="italic">θ</text>
<text x="698" y="894.5" font-size="66">(degree)</text>
<text transform="translate(49.5 378.2) rotate(-90)" text-anchor="middle" font-size="66.4" word-spacing="-1">Normalized Gain (dB)</text>
</g>
<rect x="819" y="424.5" width="497.5" height="258.5" fill="#ffffff" stroke="#0a0a0a" stroke-width="3.2"/>
<line x1="843.8" y1="461.5" x2="972.5" y2="461.5" stroke="#000000" stroke-width="9.1" stroke-dasharray="25 6 12.5 6.5"/>
<text x="980" y="479.5" font-size="49.5">Simulated Port1</text>
<line x1="843.8" y1="523.0" x2="972.5" y2="523.0" stroke="#6b6b6b" stroke-width="9.1" stroke-dasharray="25 6 12.5 6.5"/>
<text x="980" y="541.0" font-size="49.5">Simulated Port2</text>
<line x1="843.8" y1="584.0" x2="972.5" y2="584.0" stroke="#000000" stroke-width="9.1"/>
<text x="980" y="602.0" font-size="49.5">Measured Port1</text>
<line x1="843.8" y1="645.0" x2="972.5" y2="645.0" stroke="#6b6b6b" stroke-width="9.1"/>
<text x="980" y="663.0" font-size="49.5">Measured Port2</text>
</svg></body></html>
